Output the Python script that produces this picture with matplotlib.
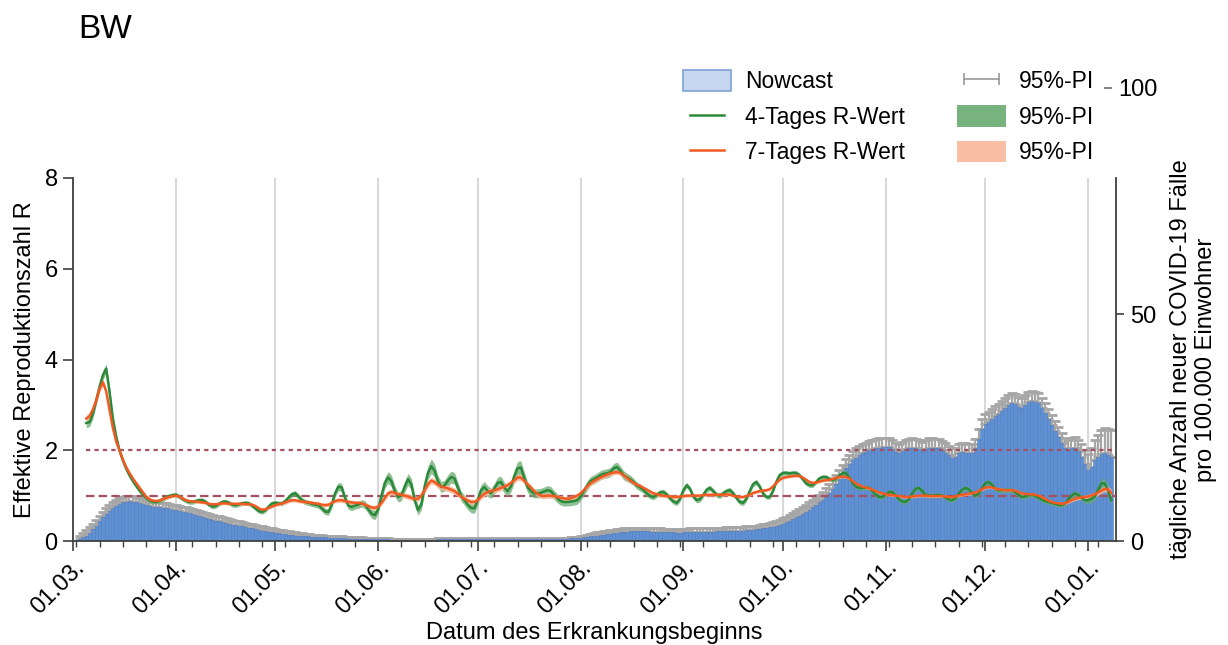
import numpy as np
import pandas as pd
import matplotlib
matplotlib.use("Agg")
import matplotlib.pyplot as plt
import matplotlib.dates as mdates
from matplotlib.patches import Patch
from matplotlib.lines import Line2D

plt.rcParams['font.family'] = ['Liberation Sans', 'DejaVu Sans']

title = "BW"
nowcast_start = "2020-03-03"
r_start = "2020-03-05"

# Nowcast: daily new cases per 100,000 inhabitants (from 03.03.2020)
nowcast = [
    0.4, 0.8, 1.2, 1.8, 2.6, 3.4, 4.3, 5.2, 5.9, 6.6,
    7.2, 7.8, 8.2, 8.5, 8.7, 8.8, 8.7, 8.6, 8.4, 8.2,
    8.0, 7.8, 7.6, 7.5, 7.4, 7.3, 7.2, 7.0, 6.9, 6.8,
    6.6, 6.4, 6.3, 6.1, 5.9, 5.7, 5.5, 5.3, 5.1, 4.9,
    4.7, 4.5, 4.3, 4.1, 3.9, 3.8, 3.6, 3.5, 3.4, 3.2,
    3.1, 2.9, 2.8, 2.6, 2.5, 2.3, 2.2, 2.0, 1.9, 1.8,
    1.7, 1.6, 1.5, 1.4, 1.3, 1.2, 1.2, 1.1, 1.0, 1.0,
    0.9, 0.9, 0.8, 0.8, 0.8, 0.7, 0.7, 0.7, 0.6, 0.6,
    0.6, 0.5, 0.5, 0.5, 0.5, 0.5, 0.4, 0.4, 0.4, 0.4,
    0.4, 0.4, 0.4, 0.4, 0.3, 0.3, 0.3, 0.3, 0.3, 0.3,
    0.3, 0.3, 0.3, 0.3, 0.3, 0.3, 0.3, 0.3, 0.4, 0.4,
    0.4, 0.4, 0.4, 0.4, 0.4, 0.4, 0.4, 0.4, 0.4, 0.4,
    0.4, 0.4, 0.4, 0.4, 0.4, 0.4, 0.4, 0.4, 0.4, 0.4,
    0.4, 0.4, 0.5, 0.5, 0.5, 0.5, 0.5, 0.5, 0.5, 0.5,
    0.5, 0.5, 0.5, 0.5, 0.5, 0.5, 0.5, 0.5, 0.6, 0.6,
    0.6, 0.7, 0.8, 0.9, 1.0, 1.1, 1.2, 1.3, 1.4, 1.5,
    1.6, 1.7, 1.8, 1.9, 2.0, 2.0, 2.1, 2.1, 2.1, 2.1,
    2.1, 2.1, 2.0, 2.0, 2.0, 2.0, 1.9, 1.9, 1.9, 1.9,
    1.8, 1.8, 1.9, 1.9, 2.0, 2.0, 2.0, 2.0, 2.0, 2.0,
    2.0, 2.0, 2.1, 2.1, 2.1, 2.2, 2.2, 2.2, 2.3, 2.3,
    2.3, 2.4, 2.4, 2.5, 2.6, 2.7, 2.8, 2.9, 3.0, 3.1,
    3.3, 3.5, 3.8, 4.1, 4.4, 4.8, 5.2, 5.6, 6.0, 6.4,
    6.9, 7.4, 7.9, 8.5, 9.1, 9.8, 10.6, 11.5, 12.5, 13.6,
    14.8, 16.0, 17.0, 17.8, 18.4, 18.9, 19.3, 19.7, 20.0, 20.3,
    20.5, 20.6, 20.7, 20.8, 20.8, 20.3, 19.6, 19.4, 19.8, 20.3,
    20.5, 20.6, 20.5, 20.2, 19.9, 20.3, 20.6, 20.6, 20.5, 20.4,
    20.1, 19.5, 18.9, 18.4, 18.6, 19.3, 19.6, 19.5, 19.3, 19.4,
    20.4, 22.5, 24.6, 25.8, 26.3, 26.9, 27.5, 28.0, 28.7, 29.4,
    30.0, 30.4, 30.3, 29.6, 29.4, 30.0, 30.6, 30.8, 30.7, 30.4,
    29.4, 28.2, 26.8, 25.5, 24.2, 23.0, 21.6, 20.4, 20.0, 20.5,
    20.6, 19.8, 18.6, 17.0, 15.7, 16.4, 17.8, 18.6, 19.2, 19.4,
    19.0, 18.6,
]

# upper bound of the nowcast 95%-PI
nowcast_pi_hi = [
    1.2, 1.8, 2.4, 3.0, 3.8, 4.7, 5.6, 6.5, 7.2, 7.9,
    8.5, 9.0, 9.4, 9.7, 9.9, 10.0, 9.9, 9.7, 9.5, 9.3,
    9.1, 8.9, 8.7, 8.6, 8.5, 8.4, 8.3, 8.1, 8.0, 7.9,
    7.7, 7.5, 7.4, 7.2, 7.0, 6.8, 6.6, 6.4, 6.2, 6.0,
    5.8, 5.6, 5.4, 5.2, 5.0, 4.8, 4.6, 4.5, 4.4, 4.2,
    4.0, 3.8, 3.7, 3.5, 3.4, 3.2, 3.1, 2.9, 2.8, 2.6,
    2.5, 2.4, 2.2, 2.1, 2.0, 1.9, 1.8, 1.7, 1.6, 1.5,
    1.4, 1.4, 1.3, 1.3, 1.2, 1.1, 1.1, 1.1, 1.0, 1.0,
    0.9, 0.9, 0.8, 0.8, 0.8, 0.8, 0.7, 0.7, 0.7, 0.7,
    0.7, 0.6, 0.6, 0.6, 0.5, 0.5, 0.5, 0.5, 0.5, 0.5,
    0.5, 0.5, 0.5, 0.5, 0.5, 0.5, 0.5, 0.5, 0.6, 0.6,
    0.6, 0.6, 0.6, 0.6, 0.6, 0.6, 0.6, 0.6, 0.6, 0.6,
    0.6, 0.6, 0.6, 0.6, 0.6, 0.6, 0.6, 0.6, 0.6, 0.6,
    0.6, 0.6, 0.7, 0.7, 0.7, 0.7, 0.7, 0.7, 0.7, 0.7,
    0.7, 0.7, 0.7, 0.7, 0.7, 0.7, 0.7, 0.7, 0.8, 0.8,
    0.9, 1.0, 1.2, 1.4, 1.6, 1.7, 1.9, 2.0, 2.1, 2.3,
    2.4, 2.5, 2.6, 2.7, 2.8, 2.8, 2.9, 2.9, 2.9, 2.9,
    2.9, 2.9, 2.8, 2.8, 2.8, 2.8, 2.7, 2.7, 2.7, 2.7,
    2.6, 2.6, 2.7, 2.7, 2.8, 2.8, 2.8, 2.8, 2.8, 2.8,
    2.8, 2.8, 2.9, 2.9, 2.9, 3.0, 3.0, 3.0, 3.1, 3.1,
    3.1, 3.2, 3.2, 3.3, 3.4, 3.6, 3.7, 3.8, 4.0, 4.1,
    4.4, 4.6, 5.0, 5.3, 5.7, 6.1, 6.6, 7.0, 7.5, 7.9,
    8.5, 9.0, 9.6, 10.2, 10.9, 11.6, 12.5, 13.4, 14.5, 15.6,
    16.8, 18.0, 19.0, 19.8, 20.4, 20.9, 21.3, 21.7, 22.0, 22.3,
    22.5, 22.6, 22.7, 22.8, 22.8, 22.3, 21.6, 21.4, 21.8, 22.3,
    22.5, 22.6, 22.5, 22.2, 21.9, 22.3, 22.6, 22.6, 22.5, 22.4,
    22.1, 21.5, 20.9, 20.4, 20.6, 21.3, 21.6, 21.5, 21.3, 21.4,
    22.5, 24.6, 26.8, 28.0, 28.5, 29.1, 29.7, 30.2, 30.9, 31.6,
    32.2, 32.6, 32.5, 31.8, 31.6, 32.2, 32.8, 33.0, 32.9, 32.6,
    31.6, 30.4, 29.0, 27.7, 26.4, 25.2, 23.8, 22.6, 22.2, 22.8,
    23.0, 22.3, 21.3, 20.0, 19.2, 20.4, 22.2, 23.4, 24.4, 24.8,
    24.6, 24.4,
]

# 4-day R value (from 05.03.2020)
r4 = [
    2.60, 2.62, 2.80, 3.10, 3.40, 3.65, 3.80, 3.30, 2.70, 2.30,
    2.00, 1.78, 1.60, 1.45, 1.33, 1.22, 1.12, 1.03, 0.96, 0.90,
    0.87, 0.86, 0.88, 0.92, 0.96, 0.99, 1.01, 1.02, 0.98, 0.93,
    0.89, 0.86, 0.86, 0.88, 0.90, 0.90, 0.86, 0.80, 0.76, 0.77,
    0.82, 0.86, 0.87, 0.84, 0.80, 0.79, 0.81, 0.83, 0.84, 0.83,
    0.78, 0.72, 0.66, 0.64, 0.68, 0.76, 0.83, 0.84, 0.83, 0.83,
    0.88, 0.96, 1.03, 1.05, 0.98, 0.90, 0.86, 0.84, 0.82, 0.80,
    0.79, 0.72, 0.65, 0.64, 0.80, 1.05, 1.20, 1.18, 0.95, 0.78,
    0.75, 0.78, 0.80, 0.83, 0.80, 0.70, 0.60, 0.57, 0.70, 1.00,
    1.28, 1.40, 1.32, 1.10, 0.97, 1.00, 1.20, 1.36, 1.25, 0.90,
    0.68, 0.80, 1.20, 1.50, 1.65, 1.55, 1.32, 1.19, 1.22, 1.33,
    1.41, 1.38, 1.18, 0.99, 0.90, 0.80, 0.73, 0.72, 0.90, 1.12,
    1.19, 1.10, 1.05, 1.15, 1.28, 1.30, 1.18, 1.10, 1.20, 1.42,
    1.60, 1.62, 1.40, 1.19, 1.10, 1.05, 1.05, 1.06, 1.09, 1.12,
    1.10, 1.02, 0.94, 0.88, 0.86, 0.86, 0.87, 0.88, 0.90, 0.98,
    1.10, 1.22, 1.32, 1.36, 1.40, 1.45, 1.48, 1.49, 1.52, 1.60,
    1.63, 1.55, 1.45, 1.40, 1.36, 1.30, 1.22, 1.18, 1.12, 1.05,
    0.99, 0.97, 1.02, 1.07, 1.08, 1.02, 0.94, 0.87, 0.84, 0.93,
    1.12, 1.23, 1.15, 0.98, 0.90, 0.92, 1.02, 1.13, 1.17, 1.10,
    1.02, 1.00, 1.05, 1.10, 1.12, 1.05, 0.95, 0.86, 0.84, 0.93,
    1.10, 1.25, 1.30, 1.20, 1.05, 0.97, 0.97, 1.10, 1.30, 1.45,
    1.50, 1.50, 1.49, 1.50, 1.50, 1.45, 1.36, 1.27, 1.23, 1.23,
    1.30, 1.38, 1.41, 1.41, 1.37, 1.35, 1.37, 1.44, 1.50, 1.50,
    1.40, 1.28, 1.20, 1.17, 1.17, 1.18, 1.17, 1.10, 1.02, 0.97,
    0.97, 1.03, 1.08, 1.08, 1.00, 0.92, 0.87, 0.86, 0.92, 1.05,
    1.15, 1.17, 1.10, 1.02, 1.00, 1.00, 1.01, 1.01, 1.00, 0.96,
    0.92, 0.90, 0.94, 1.04, 1.13, 1.17, 1.14, 1.06, 1.00, 1.04,
    1.16, 1.27, 1.30, 1.24, 1.16, 1.12, 1.12, 1.12, 1.12, 1.12,
    1.08, 1.02, 0.97, 0.98, 1.01, 1.02, 1.00, 0.96, 0.91, 0.88,
    0.86, 0.84, 0.82, 0.80, 0.79, 0.82, 0.91, 1.00, 1.05, 1.02,
    0.95, 0.90, 0.90, 0.93, 0.98, 1.12, 1.27, 1.27, 1.12, 0.90,
]

# half width of the 4-day R 95%-PI
r4_pi_halfwidth = [
    0.10, 0.10, 0.10, 0.10, 0.10, 0.10, 0.10, 0.10, 0.10, 0.10,
    0.06, 0.06, 0.06, 0.06, 0.06, 0.06, 0.06, 0.06, 0.06, 0.06,
    0.05, 0.05, 0.05, 0.05, 0.05, 0.05, 0.05, 0.05, 0.05, 0.05,
    0.05, 0.05, 0.05, 0.05, 0.05, 0.05, 0.05, 0.05, 0.05, 0.05,
    0.05, 0.05, 0.05, 0.05, 0.05, 0.05, 0.05, 0.05, 0.05, 0.05,
    0.05, 0.05, 0.05, 0.05, 0.05, 0.05, 0.05, 0.05, 0.05, 0.05,
    0.06, 0.06, 0.06, 0.06, 0.06, 0.06, 0.06, 0.06, 0.06, 0.06,
    0.07, 0.07, 0.07, 0.07, 0.08, 0.08, 0.09, 0.09, 0.08, 0.08,
    0.08, 0.08, 0.08, 0.08, 0.09, 0.09, 0.10, 0.10, 0.10, 0.11,
    0.12, 0.13, 0.13, 0.12, 0.11, 0.11, 0.12, 0.13, 0.13, 0.12,
    0.11, 0.12, 0.14, 0.15, 0.16, 0.15, 0.13, 0.12, 0.12, 0.13,
    0.13, 0.13, 0.12, 0.11, 0.11, 0.11, 0.11, 0.11, 0.12, 0.12,
    0.12, 0.12, 0.11, 0.12, 0.13, 0.13, 0.12, 0.12, 0.12, 0.14,
    0.15, 0.15, 0.13, 0.12, 0.11, 0.10, 0.10, 0.10, 0.10, 0.10,
    0.10, 0.10, 0.10, 0.09, 0.09, 0.09, 0.09, 0.09, 0.09, 0.09,
    0.09, 0.10, 0.10, 0.10, 0.10, 0.10, 0.10, 0.10, 0.10, 0.11,
    0.11, 0.10, 0.10, 0.09, 0.09, 0.08, 0.08, 0.08, 0.07, 0.07,
    0.06, 0.06, 0.06, 0.06, 0.06, 0.06, 0.06, 0.06, 0.06, 0.06,
    0.06, 0.06, 0.06, 0.06, 0.06, 0.06, 0.06, 0.06, 0.06, 0.06,
    0.06, 0.06, 0.06, 0.06, 0.06, 0.06, 0.06, 0.06, 0.06, 0.06,
    0.06, 0.06, 0.06, 0.06, 0.05, 0.05, 0.05, 0.05, 0.05, 0.05,
    0.05, 0.05, 0.05, 0.05, 0.05, 0.05, 0.05, 0.05, 0.05, 0.05,
    0.05, 0.05, 0.05, 0.05, 0.05, 0.05, 0.05, 0.05, 0.05, 0.05,
    0.05, 0.05, 0.05, 0.05, 0.05, 0.05, 0.05, 0.05, 0.05, 0.05,
    0.05, 0.05, 0.05, 0.05, 0.05, 0.05, 0.05, 0.05, 0.05, 0.05,
    0.05, 0.05, 0.05, 0.05, 0.05, 0.05, 0.05, 0.05, 0.05, 0.05,
    0.05, 0.05, 0.05, 0.05, 0.05, 0.05, 0.05, 0.05, 0.05, 0.05,
    0.05, 0.05, 0.05, 0.05, 0.05, 0.05, 0.05, 0.05, 0.05, 0.05,
    0.05, 0.05, 0.05, 0.05, 0.05, 0.05, 0.05, 0.05, 0.05, 0.05,
    0.05, 0.05, 0.05, 0.05, 0.05, 0.05, 0.05, 0.06, 0.06, 0.06,
    0.06, 0.07, 0.07, 0.08, 0.08, 0.09, 0.10, 0.10, 0.11, 0.12,
]

# 7-day R value (from 05.03.2020)
r7 = [
    2.70, 2.75, 2.90, 3.10, 3.35, 3.50, 3.30, 2.90, 2.50, 2.20,
    2.00, 1.80, 1.63, 1.50, 1.38, 1.28, 1.18, 1.08, 0.98, 0.92,
    0.89, 0.88, 0.89, 0.92, 0.95, 0.97, 0.99, 1.00, 0.98, 0.94,
    0.90, 0.88, 0.87, 0.87, 0.86, 0.85, 0.84, 0.82, 0.81, 0.81,
    0.82, 0.83, 0.83, 0.82, 0.82, 0.82, 0.82, 0.82, 0.81, 0.81,
    0.80, 0.77, 0.72, 0.69, 0.70, 0.73, 0.76, 0.79, 0.81, 0.83,
    0.85, 0.88, 0.90, 0.90, 0.88, 0.87, 0.86, 0.85, 0.84, 0.83,
    0.82, 0.80, 0.79, 0.80, 0.84, 0.88, 0.90, 0.90, 0.88, 0.86,
    0.85, 0.84, 0.84, 0.83, 0.80, 0.77, 0.74, 0.73, 0.76, 0.84,
    0.95, 1.05, 1.08, 1.06, 1.03, 1.02, 1.00, 0.98, 0.95, 0.93,
    0.93, 1.00, 1.12, 1.25, 1.33, 1.30, 1.24, 1.20, 1.18, 1.16,
    1.13, 1.10, 1.04, 0.98, 0.93, 0.89, 0.86, 0.86, 0.90, 0.98,
    1.04, 1.08, 1.10, 1.12, 1.14, 1.17, 1.20, 1.23, 1.28, 1.34,
    1.40, 1.40, 1.33, 1.25, 1.18, 1.10, 1.04, 1.00, 0.99, 1.00,
    1.00, 0.99, 0.97, 0.95, 0.94, 0.93, 0.94, 0.97, 1.00, 1.05,
    1.12, 1.20, 1.27, 1.32, 1.36, 1.40, 1.43, 1.46, 1.49, 1.51,
    1.52, 1.50, 1.45, 1.39, 1.33, 1.28, 1.24, 1.21, 1.17, 1.13,
    1.09, 1.05, 1.03, 1.01, 1.00, 0.99, 0.98, 0.97, 0.97, 0.98,
    0.99, 1.00, 1.00, 1.00, 1.00, 1.00, 1.01, 1.02, 1.02, 1.02,
    1.02, 1.02, 1.02, 1.03, 1.02, 1.00, 0.98, 0.97, 0.97, 0.99,
    1.02, 1.06, 1.08, 1.10, 1.11, 1.12, 1.14, 1.20, 1.28, 1.35,
    1.39, 1.41, 1.42, 1.43, 1.44, 1.43, 1.40, 1.35, 1.30, 1.28,
    1.29, 1.31, 1.33, 1.34, 1.35, 1.37, 1.39, 1.41, 1.42, 1.41,
    1.38, 1.32, 1.27, 1.23, 1.20, 1.18, 1.16, 1.13, 1.10, 1.07,
    1.05, 1.03, 1.02, 1.01, 1.00, 0.99, 0.98, 0.97, 0.97, 0.98,
    0.99, 1.00, 1.00, 1.00, 0.99, 0.99, 0.99, 0.99, 0.99, 0.98,
    0.97, 0.97, 0.98, 1.00, 1.02, 1.03, 1.04, 1.05, 1.07, 1.10,
    1.14, 1.17, 1.19, 1.18, 1.16, 1.14, 1.13, 1.12, 1.12, 1.12,
    1.11, 1.08, 1.05, 1.04, 1.03, 1.03, 1.02, 1.00, 0.97, 0.93,
    0.89, 0.86, 0.84, 0.83, 0.82, 0.83, 0.86, 0.90, 0.93, 0.95,
    0.96, 0.97, 0.98, 1.00, 1.03, 1.07, 1.11, 1.15, 1.14, 1.06,
]

# half width of the 7-day R 95%-PI
r7_pi_halfwidth = [
    0.08, 0.08, 0.08, 0.08, 0.08, 0.08, 0.08, 0.07, 0.07, 0.06,
    0.05, 0.05, 0.05, 0.04, 0.04, 0.04, 0.04, 0.04, 0.04, 0.04,
    0.03, 0.03, 0.03, 0.03, 0.03, 0.03, 0.03, 0.03, 0.03, 0.03,
    0.03, 0.03, 0.03, 0.03, 0.03, 0.03, 0.03, 0.03, 0.03, 0.03,
    0.03, 0.03, 0.03, 0.03, 0.03, 0.03, 0.03, 0.03, 0.03, 0.03,
    0.03, 0.03, 0.03, 0.03, 0.03, 0.03, 0.03, 0.03, 0.03, 0.03,
    0.04, 0.04, 0.04, 0.04, 0.04, 0.04, 0.04, 0.04, 0.04, 0.04,
    0.04, 0.04, 0.04, 0.04, 0.04, 0.04, 0.05, 0.05, 0.05, 0.05,
    0.05, 0.05, 0.05, 0.05, 0.05, 0.05, 0.05, 0.05, 0.05, 0.05,
    0.06, 0.06, 0.06, 0.06, 0.06, 0.06, 0.06, 0.06, 0.06, 0.06,
    0.06, 0.06, 0.07, 0.07, 0.07, 0.07, 0.07, 0.07, 0.07, 0.07,
    0.07, 0.07, 0.06, 0.06, 0.06, 0.06, 0.06, 0.06, 0.06, 0.06,
    0.06, 0.06, 0.06, 0.06, 0.06, 0.06, 0.06, 0.06, 0.06, 0.07,
    0.07, 0.07, 0.07, 0.06, 0.06, 0.06, 0.06, 0.06, 0.06, 0.06,
    0.06, 0.06, 0.05, 0.05, 0.05, 0.05, 0.05, 0.05, 0.05, 0.05,
    0.05, 0.05, 0.05, 0.05, 0.05, 0.05, 0.05, 0.05, 0.05, 0.05,
    0.05, 0.05, 0.05, 0.05, 0.04, 0.04, 0.04, 0.04, 0.04, 0.04,
    0.04, 0.04, 0.04, 0.04, 0.04, 0.04, 0.04, 0.04, 0.04, 0.04,
    0.03, 0.03, 0.03, 0.03, 0.03, 0.03, 0.03, 0.03, 0.03, 0.03,
    0.03, 0.03, 0.03, 0.03, 0.03, 0.03, 0.03, 0.03, 0.03, 0.03,
    0.03, 0.03, 0.03, 0.03, 0.03, 0.03, 0.03, 0.03, 0.03, 0.03,
    0.03, 0.03, 0.03, 0.03, 0.03, 0.03, 0.03, 0.03, 0.03, 0.03,
    0.03, 0.03, 0.03, 0.03, 0.03, 0.03, 0.03, 0.03, 0.03, 0.03,
    0.03, 0.03, 0.03, 0.03, 0.03, 0.03, 0.03, 0.03, 0.03, 0.03,
    0.03, 0.03, 0.03, 0.03, 0.03, 0.03, 0.03, 0.03, 0.03, 0.03,
    0.03, 0.03, 0.03, 0.03, 0.03, 0.03, 0.03, 0.03, 0.03, 0.03,
    0.03, 0.03, 0.03, 0.03, 0.03, 0.03, 0.03, 0.03, 0.03, 0.03,
    0.03, 0.03, 0.03, 0.03, 0.03, 0.03, 0.03, 0.03, 0.03, 0.03,
    0.03, 0.03, 0.03, 0.03, 0.03, 0.03, 0.03, 0.03, 0.03, 0.03,
    0.03, 0.03, 0.03, 0.03, 0.03, 0.03, 0.03, 0.04, 0.04, 0.04,
    0.04, 0.04, 0.05, 0.05, 0.05, 0.06, 0.06, 0.07, 0.07, 0.08,
]

r_thresholds = [1, 2]
r_ticks = [0, 2, 4, 6, 8]
case_ticks = [0, 50]
case_top_tick = [100]
x_range = ("2020-03-01", "2021-01-09 10:00")

legend_labels = ["Nowcast", "4-Tages R-Wert", "7-Tages R-Wert",
                 "95%-PI", "95%-PI", "95%-PI"]

# colours
c_bar = "#5f90d3"
c_bar_edge = "#4e7dc0"
c_err = "#a6a6a6"
c_green = "#2a8a3a"
c_green_band = "#6aab70"
c_orange = "#f15a22"
c_orange_band = "#f8b697"
c_thresh = "#a4505e"
c_axis = "#404040"

# ---------------------------------------------------------------
nowcast = np.array(nowcast)
nowcast_pi_hi = np.array(nowcast_pi_hi)
r4 = np.array(r4); r7 = np.array(r7)
r4_hw = np.array(r4_pi_halfwidth); r7_hw = np.array(r7_pi_halfwidth)

d_now = pd.date_range(nowcast_start, periods=len(nowcast), freq="D")
d_r = pd.date_range(r_start, periods=len(r7), freq="D")
d_r4 = pd.date_range(r_start, periods=len(r4), freq="D")

W, H = 1228, 645
fig = plt.figure(figsize=(W / 100, H / 100), dpi=100)
left, right, bottom, top = 73, 1116, 541, 178
ax_b = fig.add_axes([left / W, 1 - bottom / H, (right - left) / W, (bottom - top) / H])
ax_r = ax_b.twinx()

FS = 17

# bars + error bars (right axis)
ax_b.set_axisbelow(True)
ax_b.errorbar(d_now, nowcast, yerr=[np.zeros(len(nowcast)), nowcast_pi_hi - nowcast],
              fmt="none", ecolor=c_err, elinewidth=1.6, capsize=3.6, capthick=2.0, zorder=1)
ax_b.bar(d_now, nowcast, width=1.0, color=c_bar, edgecolor=c_bar_edge, linewidth=0.4, zorder=2)
ax_b.set_ylim(0, 80)
ax_b.set_yticks(case_ticks)
xlo, xhi = pd.Timestamp(x_range[0]), pd.Timestamp(x_range[1])
ax_b.set_xlim(xlo, xhi)

ax_b.xaxis.set_major_locator(mdates.MonthLocator())
ax_b.xaxis.set_major_formatter(mdates.DateFormatter("%d.%m."))
ax_b.xaxis.set_minor_locator(mdates.WeekdayLocator(byweekday=mdates.MO))
ax_b.grid(axis="x", which="major", color="#d9d9d9", linewidth=1.5)
ax_b.tick_params(axis="x", which="major", length=7, width=1.2, color=c_axis,
                 labelsize=FS, pad=4)
ax_b.tick_params(axis="x", which="minor", length=4, width=1.0, color=c_axis)
for lab in ax_b.get_xticklabels():
    lab.set_rotation(45)
    lab.set_ha("right")
    lab.set_rotation_mode("anchor")
ax_b.tick_params(axis="y", length=6, width=1.2, color=c_axis, labelsize=FS, pad=4)
ax_b.set_xlabel("Datum des Erkrankungsbeginns", fontsize=FS)
ax_b.xaxis.set_label_coords(0.5, (541 - 633) / (541 - 178))
ax_b.xaxis.label.set_va("center")
ax_b.set_ylabel("tägliche Anzahl neuer COVID-19 Fälle\npro 100.000 Einwohner",
                fontsize=FS, labelpad=10)
ax_b.yaxis.set_label_position("right")
ax_b.yaxis.tick_right()
for s in ["top", "left"]:
    ax_b.spines[s].set_visible(False)
for s in ["bottom", "right"]:
    ax_b.spines[s].set_color(c_axis)
    ax_b.spines[s].set_linewidth(1.3)

# R curves (left axis)
ax_r.yaxis.tick_left()
ax_r.yaxis.set_label_position("left")
ax_r.fill_between(d_r4, r4 - r4_hw, r4 + r4_hw, color=c_green_band, alpha=0.75, lw=0, zorder=2)
ax_r.fill_between(d_r, r7 - r7_hw, r7 + r7_hw, color=c_orange_band, alpha=0.85, lw=0, zorder=3)
ax_r.plot(d_r4, r4, color=c_green, lw=1.8, zorder=4)
ax_r.plot(d_r, r7, color=c_orange, lw=1.8, zorder=5)
ax_r.hlines(r_thresholds[0], d_r[0], xhi, colors=c_thresh, lw=1.6,
            linestyles=[(0, (3.8, 1.9))], zorder=1)
ax_r.hlines(r_thresholds[1], d_r[0], xhi, colors=c_thresh, lw=1.6,
            linestyles=[(0, (1.9, 1.9))], zorder=1)
ax_r.set_ylim(0, 8)
ax_r.set_yticks(r_ticks)
ax_r.set_xlim(xlo, xhi)
ax_r.tick_params(axis="y", length=7, width=1.2, color=c_axis, labelsize=FS, pad=4)
ax_r.set_ylabel("Effektive Reproduktionszahl R", fontsize=FS, labelpad=6)
for s in ["top", "right", "bottom"]:
    ax_r.spines[s].set_visible(False)
ax_r.spines["left"].set_color(c_axis)
ax_r.spines["left"].set_linewidth(1.3)

# extra axis carrying the "100" tick above the plot
top100 = 88
ax100 = fig.add_axes([left / W, 1 - bottom / H, (1104 - left) / W, (bottom - top100) / H])
ax100.patch.set_visible(False)
for s in ax100.spines.values():
    s.set_visible(False)
ax100.set_xticks([])
ax100.set_ylim(0, 100)
ax100.yaxis.tick_right()
ax100.set_yticks(case_top_tick)
ax100.tick_params(axis="y", length=6, width=1.2, color="#707070", labelsize=FS, pad=4)

# title
fig.text(78 / W, 1 - 30 / H, title, fontsize=24, ha="left", va="center")

# legend
handles = [
    Patch(facecolor="#c6d7ef", edgecolor="#7ea3d6", linewidth=1.2),
    Line2D([], [], color=c_green, lw=1.8),
    Line2D([], [], color=c_orange, lw=1.8),
    Line2D([], [], color="#9a9a9a", lw=1.2, marker="|", markersize=9, markeredgewidth=1.2),
    Patch(facecolor="#78b27e", edgecolor="none"),
    Patch(facecolor="#f9bea5", edgecolor="none"),
]
fig.legend(handles, legend_labels, ncol=2, loc="upper left",
           bbox_to_anchor=(683 / W, 1 - 70 / H), frameon=False, fontsize=16.5,
           handlelength=2.1, handleheight=1.05, handletextpad=0.6,
           columnspacing=2.3, labelspacing=0.52, numpoints=2, borderaxespad=0,
           borderpad=0)

fig.savefig("out.png", dpi=100)
